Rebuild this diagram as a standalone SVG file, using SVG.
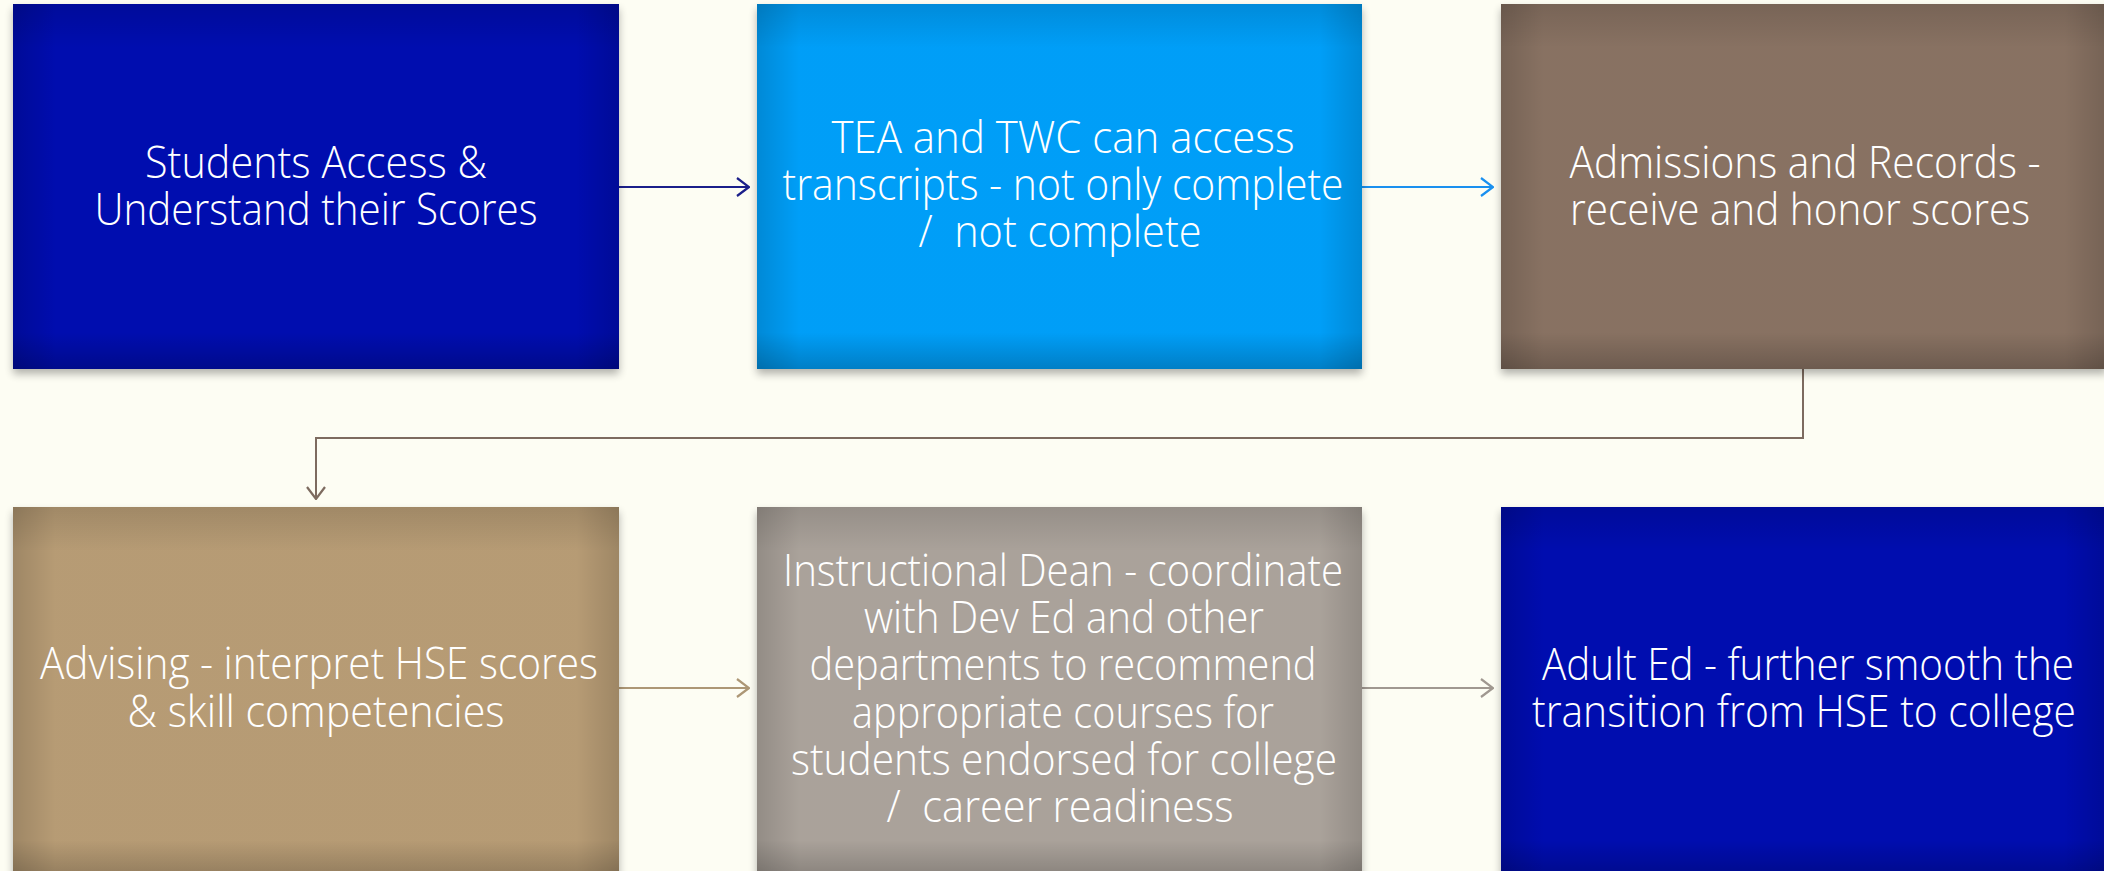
<svg xmlns="http://www.w3.org/2000/svg" width="2104" height="871" viewBox="0 0 2104 871">
<defs>
<style>
.lbl{font-family:"Open Sans","Liberation Sans",sans-serif;font-weight:300;font-size:44px;fill:#ffffff;text-anchor:middle;white-space:pre}
.con{fill:none;stroke-width:2}
</style>
<linearGradient id="hEdge" x1="0" y1="0" x2="1" y2="0">
<stop offset="0" stop-color="#000" stop-opacity="0.16"/>
<stop offset="0.07" stop-color="#000" stop-opacity="0.03"/>
<stop offset="0.93" stop-color="#000" stop-opacity="0.03"/>
<stop offset="1" stop-color="#000" stop-opacity="0.16"/>
</linearGradient>
<linearGradient id="vEdge" x1="0" y1="0" x2="0" y2="1">
<stop offset="0" stop-color="#000" stop-opacity="0.12"/>
<stop offset="0.12" stop-color="#000" stop-opacity="0"/>
<stop offset="0.9" stop-color="#000" stop-opacity="0"/>
<stop offset="1" stop-color="#000" stop-opacity="0.2"/>
</linearGradient>
<filter id="shadow" x="-5%" y="-5%" width="110%" height="115%">
<feGaussianBlur in="SourceAlpha" stdDeviation="4"/>
<feOffset dx="0" dy="5" result="b"/>
<feComponentTransfer><feFuncA type="linear" slope="0.3"/></feComponentTransfer>
<feMerge><feMergeNode/><feMergeNode in="SourceGraphic"/></feMerge>
</filter>
<marker id="aNavy" viewBox="0 0 14 20" refX="13" refY="10" markerWidth="14" markerHeight="20" markerUnits="userSpaceOnUse" orient="auto">
<path d="M1,1 L13,10 L1,19" fill="none" stroke="#1b1f8a" stroke-width="2.2"/>
</marker>
<marker id="aBlue" viewBox="0 0 14 20" refX="13" refY="10" markerWidth="14" markerHeight="20" markerUnits="userSpaceOnUse" orient="auto">
<path d="M1,1 L13,10 L1,19" fill="none" stroke="#1a90ef" stroke-width="2.2"/>
</marker>
<marker id="aBrown" viewBox="0 0 14 20" refX="13" refY="10" markerWidth="14" markerHeight="20" markerUnits="userSpaceOnUse" orient="auto">
<path d="M1,1 L13,10 L1,19" fill="none" stroke="#7d6b5f" stroke-width="2.2"/>
</marker>
<marker id="aTan" viewBox="0 0 14 20" refX="13" refY="10" markerWidth="14" markerHeight="20" markerUnits="userSpaceOnUse" orient="auto">
<path d="M1,1 L13,10 L1,19" fill="none" stroke="#ad9775" stroke-width="2.2"/>
</marker>
<marker id="aGray" viewBox="0 0 14 20" refX="13" refY="10" markerWidth="14" markerHeight="20" markerUnits="userSpaceOnUse" orient="auto">
<path d="M1,1 L13,10 L1,19" fill="none" stroke="#a09890" stroke-width="2.2"/>
</marker>
</defs>
<rect x="0" y="0" width="2104" height="871" fill="#fdfdf3"/>

<g id="connectors">
<path class="con" d="M619,187 H749" stroke="#1b1f8a" marker-end="url(#aNavy)"/>
<path class="con" d="M1362,187 H1493" stroke="#1a90ef" marker-end="url(#aBlue)"/>
<path class="con" d="M1803,369 V438 H316 V499" stroke="#7d6b5f" marker-end="url(#aBrown)"/>
<path class="con" d="M619,688 H749" stroke="#ad9775" marker-end="url(#aTan)"/>
<path class="con" d="M1362,688 H1493" stroke="#a09890" marker-end="url(#aGray)"/>
</g>

<g id="node-students">
<g filter="url(#shadow)">
<rect x="13" y="4" width="606" height="365" fill="#0008b4"/>
</g>
<rect x="13" y="4" width="606" height="365" fill="url(#hEdge)"/>
<rect x="13" y="4" width="606" height="365" fill="url(#vEdge)"/>
<text class="lbl" x="316" y="178" textLength="342" lengthAdjust="spacingAndGlyphs">Students Access &amp;</text>
<text class="lbl" x="316" y="225" textLength="443" lengthAdjust="spacingAndGlyphs">Understand their Scores</text>
</g>

<g id="node-tea">
<g filter="url(#shadow)">
<rect x="757" y="4" width="605" height="365" fill="#03a3ff"/>
</g>
<rect x="757" y="4" width="605" height="365" fill="url(#hEdge)"/>
<rect x="757" y="4" width="605" height="365" fill="url(#vEdge)"/>
<text class="lbl" x="1063" y="153" textLength="463" lengthAdjust="spacingAndGlyphs">TEA and TWC can access</text>
<text class="lbl" x="1063" y="200" textLength="561" lengthAdjust="spacingAndGlyphs">transcripts - not only complete</text>
<text class="lbl" x="1060" y="247" textLength="283" lengthAdjust="spacingAndGlyphs" xml:space="preserve">/  not complete</text>
</g>

<g id="node-admissions">
<g filter="url(#shadow)">
<rect x="1501" y="4" width="606" height="365" fill="#8c7565"/>
</g>
<rect x="1501" y="4" width="606" height="365" fill="url(#hEdge)"/>
<rect x="1501" y="4" width="606" height="365" fill="url(#vEdge)"/>
<text class="lbl" x="1805" y="178" textLength="471" lengthAdjust="spacingAndGlyphs">Admissions and Records -</text>
<text class="lbl" x="1800" y="225" textLength="460" lengthAdjust="spacingAndGlyphs">receive and honor scores</text>
</g>

<g id="node-advising">
<g filter="url(#shadow)">
<rect x="13" y="507" width="606" height="370" fill="#bca078"/>
</g>
<rect x="13" y="507" width="606" height="370" fill="url(#hEdge)"/>
<rect x="13" y="507" width="606" height="370" fill="url(#vEdge)"/>
<text class="lbl" x="319" y="679" textLength="558" lengthAdjust="spacingAndGlyphs">Advising - interpret HSE scores</text>
<text class="lbl" x="316" y="727" textLength="377" lengthAdjust="spacingAndGlyphs">&amp; skill competencies</text>
</g>

<g id="node-dean">
<g filter="url(#shadow)">
<rect x="757" y="507" width="605" height="370" fill="#afa79f"/>
</g>
<rect x="757" y="507" width="605" height="370" fill="url(#hEdge)"/>
<rect x="757" y="507" width="605" height="370" fill="url(#vEdge)"/>
<text class="lbl" x="1063" y="586" textLength="560" lengthAdjust="spacingAndGlyphs">Instructional Dean - coordinate</text>
<text class="lbl" x="1064" y="633" textLength="400" lengthAdjust="spacingAndGlyphs">with Dev Ed and other</text>
<text class="lbl" x="1063" y="680" textLength="507" lengthAdjust="spacingAndGlyphs">departments to recommend</text>
<text class="lbl" x="1063" y="728" textLength="422" lengthAdjust="spacingAndGlyphs">appropriate courses for</text>
<text class="lbl" x="1064" y="775" textLength="546" lengthAdjust="spacingAndGlyphs">students endorsed for college</text>
<text class="lbl" x="1060" y="822" textLength="347" lengthAdjust="spacingAndGlyphs" xml:space="preserve">/  career readiness</text>
</g>

<g id="node-adulted">
<g filter="url(#shadow)">
<rect x="1501" y="507" width="606" height="370" fill="#0008b4"/>
</g>
<rect x="1501" y="507" width="606" height="370" fill="url(#hEdge)"/>
<rect x="1501" y="507" width="606" height="370" fill="url(#vEdge)"/>
<text class="lbl" x="1808" y="680" textLength="532" lengthAdjust="spacingAndGlyphs">Adult Ed - further smooth the</text>
<text class="lbl" x="1804" y="727" textLength="544" lengthAdjust="spacingAndGlyphs">transition from HSE to college</text>
</g>
</svg>
